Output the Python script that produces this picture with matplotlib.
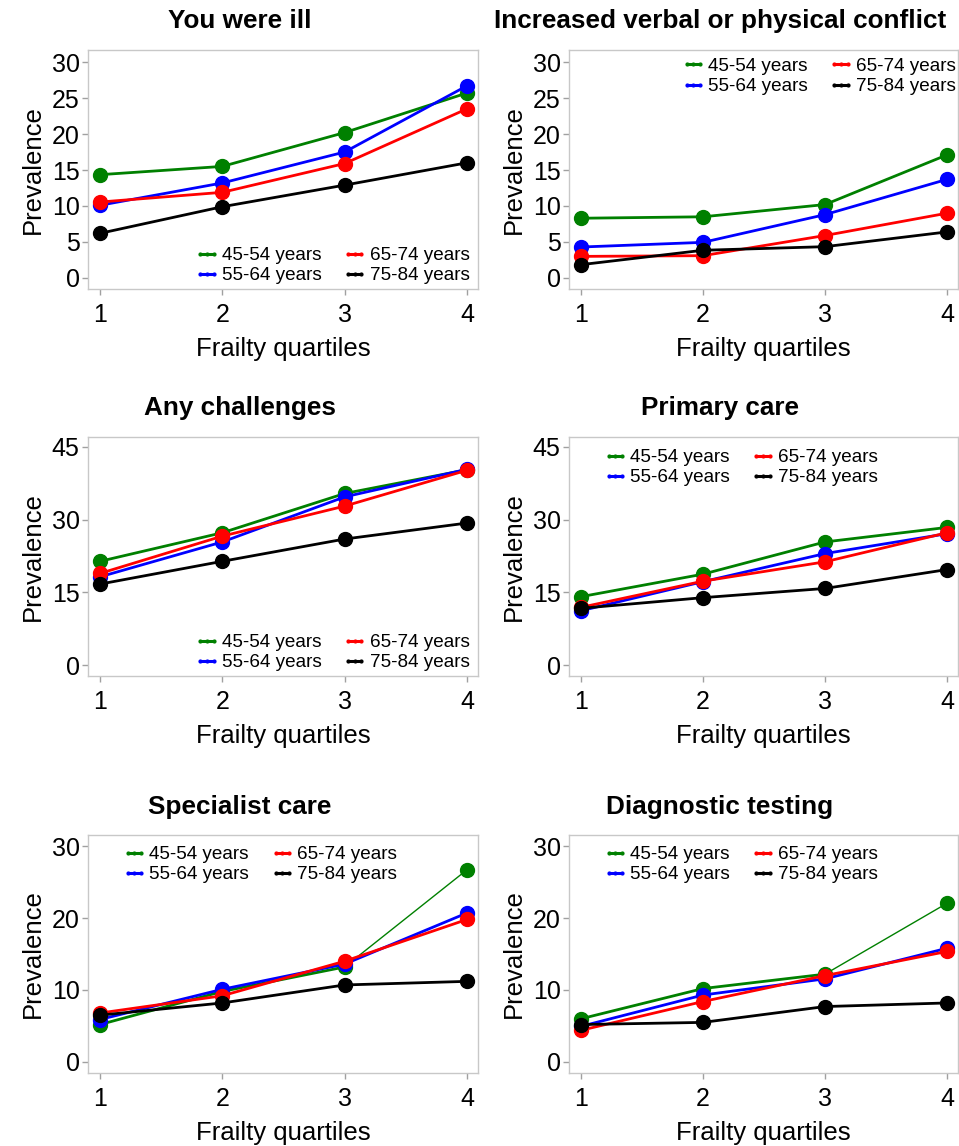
import matplotlib
matplotlib.use('Agg')
import matplotlib.pyplot as plt
from matplotlib.lines import Line2D

plt.rcParams['font.family'] = ['Liberation Sans', 'DejaVu Sans']

quartiles = [1, 2, 3, 4]
groups = ['45-54 years', '55-64 years', '65-74 years', '75-84 years']
colors = ['#008000', '#0000ff', '#ff0000', '#000000']

titles = ['You were ill', 'Increased verbal or physical conflict',
          'Any challenges', 'Primary care',
          'Specialist care', 'Diagnostic testing']

# prevalence per panel, one list per age group (green, blue, red, black)
ill = [[14.35, 15.5, 20.2, 25.7],
       [10.1, 13.2, 17.5, 26.7],
       [10.55, 11.9, 15.9, 23.5],
       [6.2, 9.9, 12.9, 16.0]]
conflict = [[8.3, 8.5, 10.2, 17.1],
            [4.3, 4.95, 8.8, 13.7],
            [3.0, 3.1, 5.9, 9.0],
            [1.85, 3.85, 4.35, 6.4]]
any_chal = [[21.4, 27.3, 35.4, 40.3],
            [18.2, 25.4, 34.7, 40.4],
            [18.9, 26.6, 32.8, 40.2],
            [16.7, 21.4, 26.0, 29.3]]
primary = [[14.1, 18.75, 25.4, 28.4],
           [11.2, 17.2, 23.0, 27.1],
           [11.9, 17.3, 21.3, 27.3],
           [11.7, 13.9, 15.8, 19.7]]
specialist = [[5.2, 9.8, 13.2, 26.7],
              [5.9, 10.1, 13.6, 20.7],
              [6.8, 9.2, 14.0, 19.8],
              [6.5, 8.2, 10.7, 11.2]]
diagnostic = [[6.0, 10.2, 12.2, 22.05],
              [4.95, 9.3, 11.55, 15.8],
              [4.4, 8.4, 12.0, 15.35],
              [5.2, 5.5, 7.7, 8.2]]
panels = [ill, conflict, any_chal, primary, specialist, diagnostic]

yticks = [[0, 5, 10, 15, 20, 25, 30], [0, 5, 10, 15, 20, 25, 30],
          [0, 15, 30, 45], [0, 15, 30, 45],
          [0, 10, 20, 30], [0, 10, 20, 30]]
ylims = [(-1.53, 31.67), (-1.53, 31.67), (-2.27, 47.06), (-2.27, 47.06),
         (-1.53, 31.53), (-1.53, 31.53)]

# axes boxes in pixels: left, top, right, bottom
boxes = [(88, 50, 478, 289), (569, 50, 958, 289),
         (88, 437, 478, 676), (569, 437, 958, 676),
         (88, 835, 478, 1073), (569, 835, 958, 1073)]
title_y = [21, 21, 408, 408, 807, 807]
legend_pos = [('lower right', (0.979, 0.02)), ('upper right', (0.995, 0.967)),
              ('lower right', (0.979, 0.02)), ('upper left', (0.087, 0.95)),
              ('upper left', (0.087, 0.954)), ('upper left', (0.087, 0.954))]
# green last segment drawn thin in the bottom panels
thin_last_green = [False, False, False, False, True, True]

W, H = 959, 1146
fig = plt.figure(figsize=(W / 100, H / 100), dpi=100)

for i, data in enumerate(panels):
    l, t, r, b = boxes[i]
    ax = fig.add_axes([l / W, 1 - b / H, (r - l) / W, (b - t) / H])
    for k, vals in enumerate(data):
        if k == 0 and thin_last_green[i]:
            ax.plot(quartiles[:3], vals[:3], color=colors[k], lw=2)
            ax.plot(quartiles[2:], vals[2:], color=colors[k], lw=1)
            ax.plot(quartiles, vals, color=colors[k], lw=0, marker='o', ms=10)
        else:
            ax.plot(quartiles, vals, color=colors[k], lw=2, marker='o', ms=10)
    ax.set_xlim(0.902, 4.09)
    ax.set_ylim(*ylims[i])
    ax.set_xticks(quartiles)
    ax.set_yticks(yticks[i])
    for s in ax.spines.values():
        s.set_color('#c8c8c8')
        s.set_linewidth(1)
    ax.tick_params(direction='out', length=4, width=1, color='#a0a0a0',
                   labelsize=18, pad=2)
    ax.tick_params(axis='x', pad=6)
    ax.set_xlabel('Frailty quartiles', fontsize=18.5, labelpad=7)
    ax.set_ylabel('Prevalence', fontsize=18.5, labelpad=5)
    cx = 240 if i % 2 == 0 else 720
    fig.text(cx / W, 1 - title_y[i] / H, titles[i], fontsize=18.8,
             fontweight='bold', ha='center', va='center')
    handles = [Line2D([], [], color=c, lw=2.2, marker='o', ms=2) for c in colors]
    loc, anchor = legend_pos[i]
    ax.legend(handles, groups, loc=loc, bbox_to_anchor=anchor, ncol=2,
              frameon=False, fontsize=13.6, borderpad=0, borderaxespad=0,
              labelspacing=0.15, columnspacing=1.1, handlelength=1.3,
              handletextpad=0.15, numpoints=3)

fig.savefig('out.png', dpi=100)
